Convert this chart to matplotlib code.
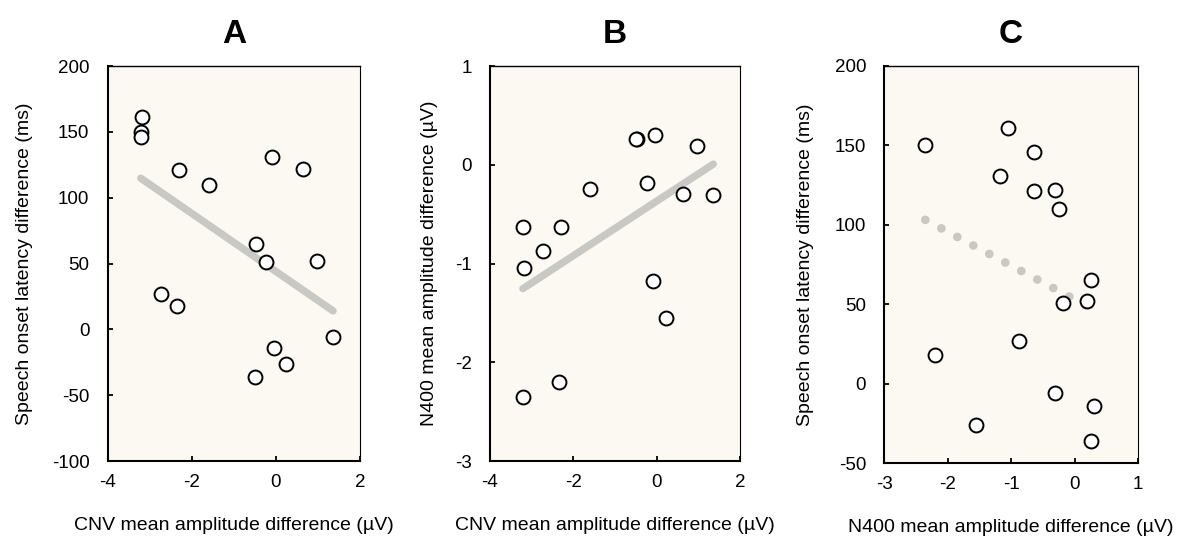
import matplotlib
matplotlib.use("Agg")
import matplotlib.pyplot as plt
import numpy as np

# data per participant
cnv = [-3.19, -3.21, -3.21, -2.29, -1.59, -0.09, 0.64, -0.48,
       -0.23, 0.98, -2.73, -2.34, 1.36, -0.04, 0.23, -0.49]
n400 = [-1.05, -2.35, -0.635, -0.635, -0.25, -1.18, -0.30, 0.26,
        -0.18, 0.19, -0.87, -2.20, -0.31, 0.30, -1.55, 0.26]
speech = [161, 150, 146, 121, 110, 131, 122, 65,
          51, 52, 27, 18, -6, -14, -26, -36]

cnv_label = "CNV mean amplitude difference (\u00b5V)"
n400_label = "N400 mean amplitude difference (\u00b5V)"
speech_label = "Speech onset latency difference (ms)"

plt.rcParams["font.family"] = ["Liberation Sans", "DejaVu Sans"]
plt.rcParams["axes.unicode_minus"] = False

BG = "#FBF9F2"
LINE_C = "#C8C8C5"

fig = plt.figure(figsize=(11.83, 5.39), dpi=100)

panels = [
    # title, x, y, xlabel, ylabel, xlim, ylim, xticks, yticks, rect, ylabel x, dotted
    ("A", cnv, speech, cnv_label, speech_label, (-4, 2), (-100, 200),
     np.arange(-4, 3, 2), np.arange(-100, 201, 50),
     [0.0909, 0.1447, 0.2134, 0.7328], -0.295, False),
    ("B", cnv, n400, cnv_label, n400_label, (-4, 2), (-3, 1),
     np.arange(-4, 3, 2), np.arange(-3, 2, 1),
     [0.4142, 0.1447, 0.2113, 0.7328], -0.208, False),
    ("C", n400, speech, n400_label, speech_label, (-3, 1), (-50, 200),
     np.arange(-3, 2, 1), np.arange(-50, 201, 50),
     [0.7473, 0.1410, 0.2147, 0.7366], -0.276, True),
]

for (title, x, y, xl, yl, xlim, ylim, xt, yt, rect, ylx, dotted) in panels:
    ax = fig.add_axes(rect)
    ax.set_facecolor(BG)
    x = np.array(x)
    y = np.array(y)

    # least-squares line over the data range
    k, b = np.polyfit(x, y, 1)
    xs = np.array([x.min(), x.max()])
    if dotted:
        ax.plot(xs, k * xs + b, color=LINE_C, lw=6.3,
                linestyle=(0, (0.001, 2.07)), dash_capstyle="round", zorder=2)
    else:
        ax.plot(xs, k * xs + b, color=LINE_C, lw=5.3, solid_capstyle="round",
                zorder=2)

    ax.plot(x, y, "o", ms=10, mfc="white", mec="black", mew=1.4, zorder=3,
            clip_on=False)

    ax.set_xlim(*xlim)
    ax.set_ylim(*ylim)
    ax.set_xticks(xt)
    ax.set_yticks(yt)
    ax.tick_params(direction="in", length=3.5, width=1.3, labelsize=13.5)
    ax.tick_params(axis="y", pad=13)
    ax.tick_params(axis="x", pad=9)

    ax.spines["left"].set_linewidth(1.5)
    ax.spines["bottom"].set_linewidth(1.5)
    ax.spines["top"].set_linewidth(1.0)
    ax.spines["right"].set_linewidth(0.8)

    ax.set_xlabel(xl, fontsize=14)
    ax.xaxis.set_label_coords(0.5, -0.142)
    ax.set_ylabel(yl, fontsize=14)
    ax.yaxis.set_label_coords(ylx, 0.5)

    ax.set_title(title, fontsize=24, fontweight="bold", y=1.059, pad=0)

fig.savefig("out.png", dpi=100)
